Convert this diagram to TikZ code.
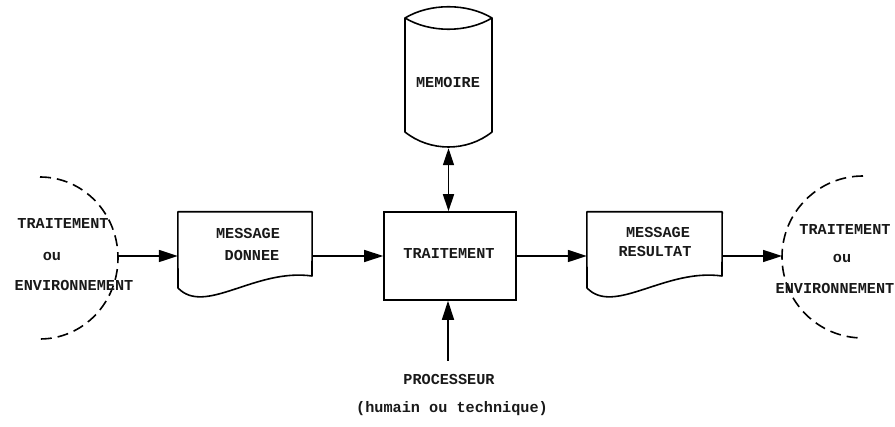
\documentclass[tikz,border=0pt]{standalone}
\usepackage{fontspec}
\setmonofont{Liberation Mono}
\usetikzlibrary{arrows.meta}
\begin{document}
\begin{tikzpicture}[x=1pt,y=-1pt,
  lbl/.style={font=\ttfamily\bfseries\fontsize{15.2}{19}\selectfont, inner sep=0pt, text=black!90},
  holder/.style={inner sep=0pt},
  shapeline/.style={line width=1.6pt, line join=round},
  arr/.style={line width=1.6pt,-{Triangle[length=19pt,width=12pt]}},
  dblarr/.style={line width=1.6pt,{Triangle[length=17pt,width=11pt]}-{Triangle[length=17pt,width=11pt]}},
  dashedarc/.style={line width=1.6pt, dash pattern=on 11pt off 6pt}]
\useasboundingbox (0,0) rectangle (895,427);

% left environment
\draw[dashedarc] (40,177) arc[start angle=-90,end angle=90,x radius=78,y radius=81];
\coordinate (envL) at (118,256);
\node[lbl] (lT) at (63,223) {TRAITEMENT};
\node[lbl] (lou) at (52,256) {ou};
\node[lbl] (lE) at (74,285) {ENVIRONNEMENT};

% right environment
\draw[dashedarc] (863,176) arc[start angle=-90,end angle=-270,x radius=81,y radius=81];
\coordinate (envR) at (782,256);
\node[lbl] (rT) at (845,229) {TRAITEMENT};
\node[lbl] (rou) at (842,258) {ou};
\node[lbl] (rE) at (835,288) {ENVIRONNEMENT};

% message donnee
\node[holder, minimum width=134pt, minimum height=88pt] (don) at (245,256) {};
\draw[shapeline] (don.north west) -- (don.north east) -- (312,276)
  .. controls (255,268) and (205,316) .. (178,288) -- cycle;
\node[lbl] (donT1) at (248,233) {MESSAGE};
\node[lbl] (donT2) at (252,255) {DONNEE};

% traitement
\node[draw, line width=1.6pt, minimum width=132pt, minimum height=88pt, inner sep=0pt] (trt) at (450,256) {};
\node[lbl] (trtT) at (449,253) {TRAITEMENT};

% memoire cylinder
\node[holder, minimum width=87pt, minimum height=140pt] (mem) at (448.5,78) {};
\draw[shapeline] (405,18) .. controls (430,3) and (467,3) .. (492,18)
  .. controls (467,33) and (430,33) .. (405,18) -- (405,132)
  .. controls (430,152) and (467,152) .. (492,132) -- (492,18);
\node[lbl] (memT) at (448,82) {MEMOIRE};

% message resultat
\node[holder, minimum width=135pt, minimum height=88pt] (res) at (654.5,256) {};
\draw[shapeline] (res.north west) -- (res.north east) -- (722,276)
  .. controls (665,268) and (614,316) .. (587,288) -- cycle;
\node[lbl] (resT1) at (658,232) {MESSAGE};
\node[lbl] (resT2) at (655,251) {RESULTAT};

% processeur
\node[lbl] (proc) at (449,379) {PROCESSEUR};
\node[lbl] (hum) at (452,409) {(humain ou technique)};
\coordinate (pbot) at (448,361);

% connectors
\draw[arr] (envL) -- (don.west);
\draw[arr] (don.east) -- (trt.west);
\draw[arr] (trt.east) -- (res.west);
\draw[arr] (res.east) -- (envR);
\draw[dblarr] (mem.south) -- (mem.south |- trt.north);
\draw[arr] (pbot) -- (pbot |- trt.south);
\end{tikzpicture}
\end{document}
